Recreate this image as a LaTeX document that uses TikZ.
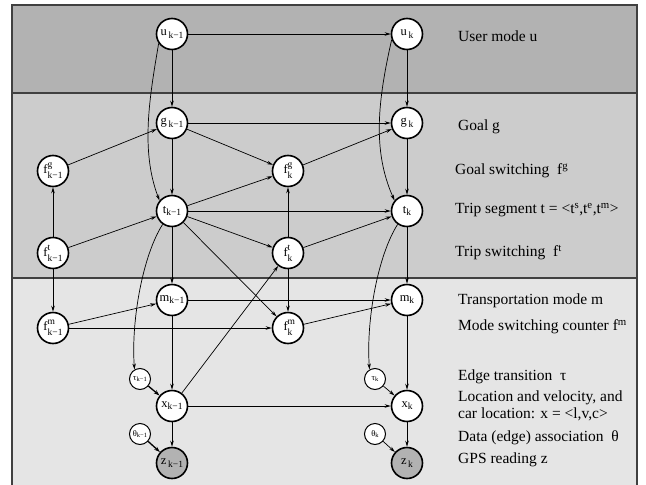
\documentclass[tikz,border=0pt]{standalone}
\usepackage{fontspec}
\setmainfont{Liberation Serif}
\usetikzlibrary{arrows.meta}
\definecolor{bandA}{gray}{0.70}
\definecolor{bandB}{gray}{0.80}
\definecolor{bandC}{gray}{0.90}
\definecolor{obsgray}{gray}{0.70}
\definecolor{framecol}{gray}{0.25}
\newcommand\mainfs{\fontsize{12.5}{12.5}\selectfont}
\newcommand\subfs{\fontsize{9.5}{9.5}\selectfont}
\newcommand\labfs{\fontsize{15.5}{15}\selectfont}
\newcommand\nsub[2]{{\mainfs #1}\,\raisebox{-3pt}{\subfs #2}}
\newcommand\nsubt[2]{{\mainfs #1}\raisebox{-2pt}{\subfs #2}}
\newcommand\nsup[3]{{\mainfs #1}\rlap{\raisebox{6pt}{\subfs #2}}\raisebox{-5pt}{\subfs #3}}
\newcommand\nsmall[2]{{\fontsize{8.5}{8.5}\selectfont #1}\raisebox{-1.5pt}{\fontsize{6.5}{6.5}\selectfont #2}}
\begin{document}
\begin{tikzpicture}[x=1pt,y=1pt,
  nd/.style={circle,draw=black,line width=1.6pt,fill=white,minimum size=31pt,inner sep=0pt},
  sm/.style={circle,draw=black,line width=1pt,fill=white,minimum size=21pt,inner sep=0pt},
  obs/.style={nd,fill=obsgray},
  ar/.style={-{Stealth[length=6pt,width=3.5pt]},line width=0.7pt},
  arb/.style={-{Stealth[length=6pt,width=4pt]},line width=1.3pt},
  frame/.style={draw=framecol,line width=1.2pt},
  lab/.style={anchor=west,inner sep=0pt,font=\labfs}]
\useasboundingbox (0,0) rectangle (646,-485);
% bands
\fill[bandA] (12,-5) rectangle (637,-93);
\fill[bandB] (12,-93) rectangle (637,-278);
\fill[bandC] (12,-278) rectangle (637,-486);
\draw[frame] (12,-486) -- (12,-5) -- (637,-5) -- (637,-486);
\draw[frame] (12,-93) -- (637,-93);
\draw[frame] (12,-278) -- (637,-278);
% nodes
\node[nd] (u1) at (172,-34) {\nsub{u}{k−1}};
\node[nd] (u2) at (407,-34) {\nsub{u}{k}};
\node[nd] (g1) at (172,-123) {\nsub{g}{k−1}};
\node[nd] (g2) at (407,-123) {\nsub{g}{k}};
\node[nd] (fg1) at (53,-171) {\nsup{f}{g}{k−1}};
\node[nd] (fg2) at (288,-171) {\nsup{f}{g}{k}};
\node[nd] (t1) at (172,-211) {\nsubt{t}{k−1}};
\node[nd] (t2) at (407,-211) {\nsubt{t}{k}};
\node[nd] (ft1) at (53,-253) {\nsup{f}{t}{k−1}};
\node[nd] (ft2) at (288,-253) {\nsup{f}{t}{k}};
\node[nd] (m1) at (172,-300) {\nsubt{m}{k−1}};
\node[nd] (m2) at (407,-300) {\nsubt{m}{k}};
\node[nd] (fm1) at (53,-328) {\nsup{f}{m}{k−1}};
\node[nd] (fm2) at (288,-328) {\nsup{f}{m}{k}};
\node[sm] (tau1) at (140,-379) {\nsmall{τ}{k−1}};
\node[sm] (tau2) at (375,-379) {\nsmall{τ}{k}};
\node[nd] (x1) at (172,-406) {\nsubt{x}{k−1}};
\node[nd] (x2) at (407,-406) {\nsubt{x}{k}};
\node[sm] (th1) at (140,-434) {\nsmall{θ}{k−1}};
\node[sm] (th2) at (375,-434) {\nsmall{θ}{k}};
\node[obs] (z1) at (172,-463) {\nsub{z}{k−1}};
\node[obs] (z2) at (407,-463) {\nsub{z}{k}};
% edges
\draw[ar] (u1) -- (u2);
\draw[ar] (u1) -- (g1);
\draw[ar] (u2) -- (g2);
\draw[ar] (u1.215) .. controls (150,-95) and (140,-150) .. (t1.140);
\draw[ar] (u2.200) .. controls (378,-100) and (372,-150) .. (t2.140);
\draw[ar] (g1) -- (g2);
\draw[ar] (g1) -- (fg2);
\draw[ar] (g1) -- (t1);
\draw[ar] (fg1) -- (g1);
\draw[ar] (fg2) -- (g2);
\draw[ar] (g2) -- (t2);
\draw[ar] (t1) -- (fg2);
\draw[ar] (t1) -- (t2);
\draw[ar] (t1) -- (ft2);
\draw[ar] (t1) -- (m1);
\draw[ar] (t1) -- (fm2);
\draw[ar] (t1.-125) .. controls (143,-255) and (131,-320) .. (tau1.120);
\draw[ar] (t2.-125) .. controls (378,-255) and (366,-320) .. (tau2.120);
\draw[ar] (ft1) -- (fg1);
\draw[ar] (ft1) -- (t1);
\draw[ar] (ft1) -- (fm1);
\draw[ar] (ft2) -- (fg2);
\draw[ar] (ft2) -- (t2);
\draw[ar] (ft2) -- (fm2);
\draw[ar] (t2) -- (m2);
\draw[ar] (m1) -- (m2);
\draw[ar] (m1) -- (x1);
\draw[ar] (fm1) -- (m1);
\draw[ar] (fm1) -- (fm2);
\draw[ar] (fm2) -- (m2);
\draw[ar] (m2) -- (x2);
\draw[arb] (tau1) -- (x1);
\draw[ar] (tau2) -- (x2);
\draw[ar] (x1) -- (ft2);
\draw[ar] (x1) -- (x2);
\draw[ar] (x1) -- (z1);
\draw[arb] (th1) -- (z1);
\draw[ar] (x2) -- (z2);
\draw[ar] (th2) -- (z2);
% labels
\node[lab] (l1) at (458,-36) {User mode u};
\node[lab] (l2) at (458,-127) {Goal g};
\node[lab] (l3) at (455,-171) {Goal switching\ \ f\textsuperscript{g}};
\node[lab] (l4) at (455,-210) {Trip segment t = <t\textsuperscript{s},t\textsuperscript{e},t\textsuperscript{m}>};
\node[lab] (l5) at (455,-253) {Trip switching\ \ f\textsuperscript{t}};
\node[lab] (l6) at (458,-301) {Transportation mode m};
\node[lab] (l7) at (458,-327) {Mode switching counter f\textsuperscript{m}};
\node[lab] (l8) at (458,-377) {Edge transition\ \ τ};
\node[lab] (l9) at (458,-398) {Location and velocity, and};
\node[lab] (l10) at (458,-414) {car location: x = <l,v,c>};
\node[lab] (l11) at (458,-438) {Data (edge) association\ \ θ};
\node[lab] (l12) at (458,-460) {GPS reading z};
\end{tikzpicture}
\end{document}
